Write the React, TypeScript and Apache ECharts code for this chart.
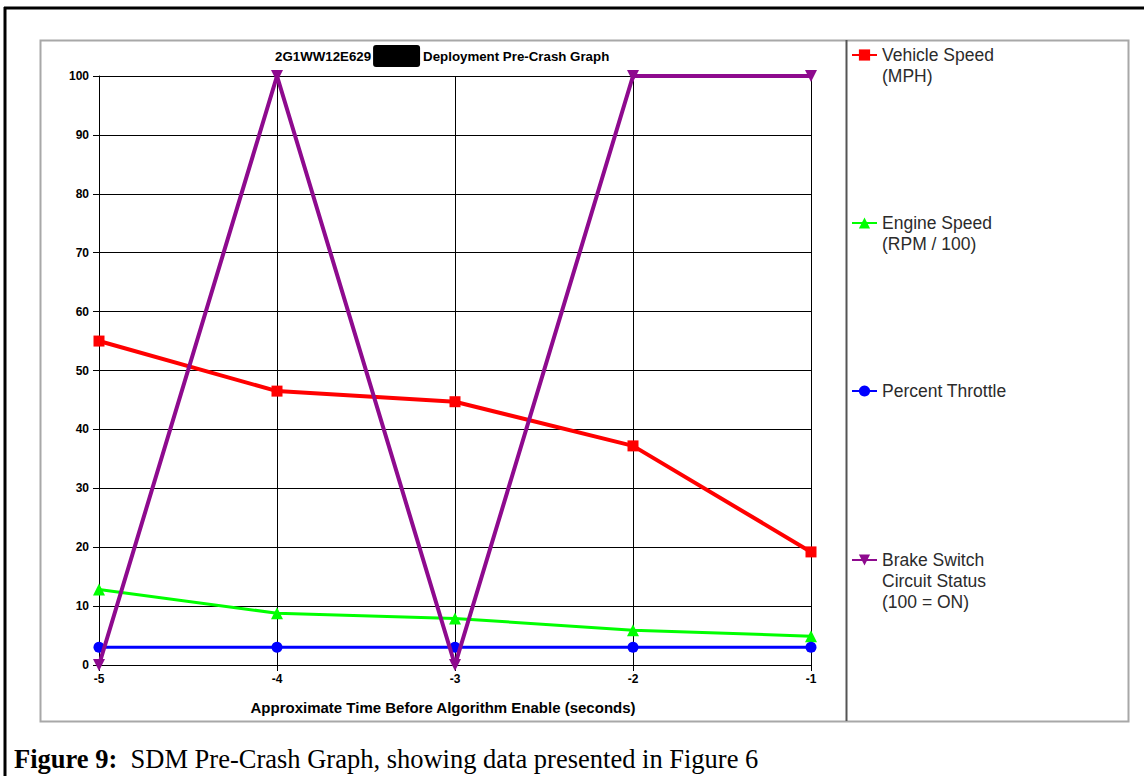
import React, { useEffect, useRef } from "react";
import * as echarts from "echarts";

const categories = ["-5", "-4", "-3", "-2", "-1"];
const vehicleSpeed = [55, 46.5, 44.7, 37.2, 19.2];
const engineSpeed = [12.8, 8.8, 7.9, 5.9, 4.9];
const throttle = [3, 3, 3, 3, 3];
const brakeSwitch = [0, 100, 0, 100, 100];
const seriesNames = ["Vehicle Speed", "Engine Speed", "Percent Throttle", "Brake Switch"];
const legendExtraLines = [["(MPH)"], ["(RPM / 100)"], [], ["Circuit Status", "(100 = ON)"]];
const legendCentersY = [55, 223, 391, 560];

const SANS = "'Liberation Sans', Arial, sans-serif";
const SERIF = "'Liberation Serif', 'Times New Roman', serif";

export default function App() {
  const ref = useRef<HTMLDivElement>(null);
  useEffect(() => {
    if (!ref.current) return;
    const chart = echarts.init(ref.current, undefined, { renderer: "svg" });
    const colors = ["#ff0000", "#00ff00", "#0000ff", "#8e0a8e"];
    const datas = [vehicleSpeed, engineSpeed, throttle, brakeSwitch];
    const symbols = ["rect", "triangle", "circle", "triangle"];
    const rotates = [0, 0, 0, 180];
    const sizes = [11, 12, 11, 12];
    const widths = [4, 3, 3, 4];

    const series = seriesNames.map((name, i) => ({
      name,
      type: "line",
      data: datas[i],
      symbol: symbols[i],
      symbolRotate: rotates[i],
      symbolSize: sizes[i],
      showAllSymbol: true,
      lineStyle: { color: colors[i], width: widths[i] },
      itemStyle: { color: colors[i], borderWidth: 0 },
      z: 3 + i,
      emphasis: { disabled: true },
    }));

    const legends = seriesNames.map((name, i) => ({
      data: [name],
      left: 851,
      top: legendCentersY[i] - 10,
      padding: 0,
      itemWidth: 25,
      itemHeight: 14,
      itemGap: 6,
      selectedMode: false,
      textStyle: { fontFamily: SANS, fontSize: 17.5, color: "#2b2b2b", lineHeight: 20 },
    }));

    const graphics: any[] = [
      { type: "line", shape: { x1: 4, y1: 8, x2: 1144, y2: 8 }, style: { stroke: "#000", lineWidth: 3 } },
      { type: "line", shape: { x1: 5, y1: 7, x2: 5, y2: 776 }, style: { stroke: "#000", lineWidth: 3 } },
      { type: "rect", shape: { x: 40.5, y: 40.5, width: 1088, height: 681 }, style: { fill: "none", stroke: "#a8a8a8", lineWidth: 2 }, z: -1 },
      { type: "line", shape: { x1: 846.5, y1: 40, x2: 846.5, y2: 721 }, style: { stroke: "#555", lineWidth: 2 } },
      {
        type: "text",
        x: 443,
        y: 707,
        style: {
          text: "Approximate Time Before Algorithm Enable (seconds)",
          font: `bold 15px ${SANS}`,
          fill: "#000",
          align: "center",
          verticalAlign: "middle",
        },
      },
      {
        type: "text",
        x: 14,
        y: 759,
        style: {
          text: "{b|Figure 9:}{r|  SDM Pre-Crash Graph, showing data presented in Figure 6}",
          verticalAlign: "middle",
          rich: {
            b: { fontFamily: SERIF, fontSize: 26.5, fontWeight: "bold", fill: "#000" },
            r: { fontFamily: SERIF, fontSize: 26.5, fill: "#000" },
          },
        },
      },
    ];
    legendExtraLines.forEach((lines, i) => {
      lines.forEach((t, j) => {
        graphics.push({
          type: "text",
          x: 882,
          y: legendCentersY[i] + 21 * (j + 1),
          style: { text: t, font: `17.5px ${SANS}`, fill: "#2b2b2b", verticalAlign: "middle" },
        });
      });
    });

    chart.setOption({
      animation: false,
      backgroundColor: "#fff",
      title: {
        text: "{a|2G1WW12E629}{box|}{c|Deployment Pre-Crash Graph}",
        left: 275,
        top: 45,
        padding: 0,
        textStyle: {
          rich: {
            a: { fontFamily: SANS, fontSize: 13.3, fontWeight: "bold", color: "#000", padding: [0, 2, 0, 0] },
            box: { backgroundColor: "#000", width: 47, height: 22, borderRadius: 3 },
            c: { fontFamily: SANS, fontSize: 13.3, fontWeight: "bold", color: "#000", padding: [0, 0, 0, 3] },
          },
        },
      },
      legend: legends,
      grid: { left: 99, right: 333, top: 76, bottom: 111, containLabel: false },
      xAxis: {
        type: "category",
        data: categories,
        boundaryGap: false,
        axisLine: { show: true, lineStyle: { color: "#000", width: 1 } },
        axisTick: { show: true, length: 6, lineStyle: { color: "#000" } },
        axisLabel: { fontFamily: SANS, fontSize: 12, fontWeight: "bold", color: "#000", margin: 8 },
        splitLine: { show: true, lineStyle: { color: "#000", width: 1 } },
      },
      yAxis: {
        type: "value",
        min: 0,
        max: 100,
        interval: 10,
        axisLine: { show: true, lineStyle: { color: "#000", width: 1 } },
        axisTick: { show: true, length: 6, lineStyle: { color: "#000" } },
        axisLabel: { fontFamily: SANS, fontSize: 12, fontWeight: "bold", color: "#000", margin: 10 },
        splitLine: { show: true, lineStyle: { color: "#000", width: 1 } },
      },
      series,
      graphic: graphics,
    });
    return () => chart.dispose();
  }, []);
  return (
    <div
      ref={ref}
      style={{ position: "absolute", left: 0, top: 0, width: 1144, height: 776 }}
    />
  );
}
